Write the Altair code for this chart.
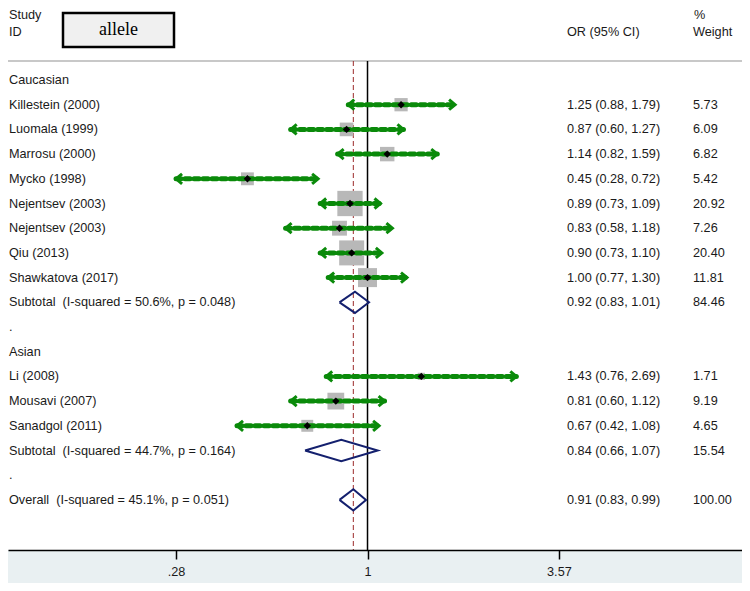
import altair as alt
import pandas as pd

# ---------------- data ----------------
studies = ["Killestein (2000)", "Luomala (1999)", "Marrosu (2000)", "Mycko (1998)",
           "Nejentsev (2003)", "Nejentsev (2003)", "Qiu (2013)", "Shawkatova (2017)",
           "Li (2008)", "Mousavi (2007)", "Sanadgol (2011)"]
groups = ["Caucasian"] * 8 + ["Asian"] * 3
or_vals = [1.25, 0.87, 1.14, 0.45, 0.89, 0.83, 0.90, 1.00, 1.43, 0.81, 0.67]
ci_low = [0.88, 0.60, 0.82, 0.28, 0.73, 0.58, 0.73, 0.77, 0.76, 0.60, 0.42]
ci_high = [1.79, 1.27, 1.59, 0.72, 1.09, 1.18, 1.10, 1.30, 2.69, 1.12, 1.08]
weights = [5.73, 6.09, 6.82, 5.42, 20.92, 7.26, 20.40, 11.81, 1.71, 9.19, 4.65]

sum_labels = ["Subtotal\u00a0 (I-squared = 50.6%, p = 0.048)",
              "Subtotal\u00a0 (I-squared = 44.7%, p = 0.164)",
              "Overall\u00a0 (I-squared = 45.1%, p = 0.051)"]
sum_groups = ["Caucasian", "Asian", "Overall"]
sum_or = [0.92, 0.84, 0.91]
sum_low = [0.83, 0.66, 0.83]
sum_high = [1.01, 1.07, 0.99]
sum_weights = [84.46, 15.54, 100.00]

tick_values = [0.28, 1, 3.57]
tick_labels = [".28", "1", "3.57"]

# ---------------- layout tables ----------------
W, H = 734, 542
FONT = "Liberation Sans"
FS = 12.7
TXT = "#1a1a1a"
GREEN = "#0a8a0a"
NAVY = "#14206e"

study_rows, label_rows, diamond_rows = [], [], []
row = 0
for gi, g in enumerate(["Caucasian", "Asian"]):
    label_rows.append({"row": row, "label": g, "orci": "", "wt": ""})
    row += 1
    for i, s in enumerate(studies):
        if groups[i] != g:
            continue
        study_rows.append({"row": row, "or": or_vals[i], "lo": ci_low[i], "hi": ci_high[i], "w": weights[i]})
        label_rows.append({"row": row, "label": s,
                           "orci": f"{or_vals[i]:.2f} ({ci_low[i]:.2f}, {ci_high[i]:.2f})",
                           "wt": f"{weights[i]:.2f}"})
        row += 1
    label_rows.append({"row": row, "label": sum_labels[gi],
                       "orci": f"{sum_or[gi]:.2f} ({sum_low[gi]:.2f}, {sum_high[gi]:.2f})",
                       "wt": f"{sum_weights[gi]:.2f}"})
    diamond_rows.append((row, gi))
    row += 1
    label_rows.append({"row": row, "label": ".", "orci": "", "wt": ""})
    row += 1
label_rows.append({"row": row, "label": sum_labels[2],
                   "orci": f"{sum_or[2]:.2f} ({sum_low[2]:.2f}, {sum_high[2]:.2f})",
                   "wt": f"{sum_weights[2]:.2f}"})
diamond_rows.append((row, 2))

half = 0.43
dia = []
for r, k in diamond_rows:
    pts = [(sum_low[k], r), (sum_or[k], r - half), (sum_high[k], r), (sum_or[k], r + half), (sum_low[k], r)]
    for v, (xx, yy) in enumerate(pts):
        dia.append({"g": sum_groups[k], "v": v, "x": xx, "y": yy})

df_st = pd.DataFrame(study_rows)
df_lab = pd.DataFrame(label_rows)
df_dia = pd.DataFrame(dia)
df_hdr_top = pd.DataFrame([
    {"c": "study", "t": "Study"},
    {"c": "wt", "t": "%"},
])
df_hdr = pd.DataFrame([
    {"row": -1.95, "c": "study", "t": "ID"},
    {"row": -1.95, "c": "or", "t": "OR (95% CI)"},
    {"row": -1.95, "c": "wt", "t": "Weight"},
])
df_ref = pd.DataFrame({"x": [1.0]})
df_ovr = pd.DataFrame({"x": [sum_or[2]]})
one = pd.DataFrame({"a": [0]})

xs = alt.Scale(type="log", domain=[0.0916, 12.06], range=[0, W], nice=False, zero=False)
ys = alt.Scale(domain=[19.028, -2.915], nice=False, zero=False)

label_map = "{" + ",".join(f"'{v}':'{l}'" for v, l in zip(tick_values, tick_labels)) + "}"
x_axis = alt.Axis(values=tick_values, labelExpr=f"{label_map}[toString(datum.value)]",
                  domainColor="black", domainWidth=1.5, tickColor="black", tickWidth=1.5,
                  tickSize=9, labelFontSize=FS, labelFont=FONT, labelColor=TXT,
                  labelPadding=6, grid=False, zindex=1, labelFlush=False,
                  labelOverlap=False, orient="bottom")


def X(f):
    return alt.X(f, type="quantitative", scale=xs, axis=x_axis, title=None)


def Y(f):
    return alt.Y(f, type="quantitative", scale=ys, axis=None, title=None)


band = alt.Chart(one).mark_rect(color="#e9f0f2").encode(
    x=alt.value(0), x2=alt.value(W), y=alt.value(H), y2=alt.value(H + 33))

hline = alt.Chart(one).mark_rule(color="#c8c8c8", strokeWidth=2).encode(
    x=alt.value(0), x2=alt.value(W), y=alt.value(53))

box = alt.Chart(one).mark_rect(fill="#f0f0f0", stroke="black", strokeWidth=2.5).encode(
    x=alt.value(55), x2=alt.value(166), y=alt.value(5), y2=alt.value(39))
box_txt = alt.Chart(pd.DataFrame({"t": ["allele"]})).mark_text(
    font="Liberation Serif", fontSize=18, color="black", align="center", baseline="middle").encode(
    x=alt.value(110.5), y=alt.value(22), text="t:N")

ref = alt.Chart(df_ref).mark_rule(color="black", strokeWidth=1.5).encode(
    x=X("x"), y=alt.value(53), y2=alt.value(H))

ovr = alt.Chart(df_ovr).mark_rule(color="#9b2a2a", strokeWidth=1, strokeDash=[5, 3]).encode(
    x=X("x"), y=alt.value(53), y2=alt.value(H))

squares = alt.Chart(df_st).mark_square(color="#b8b8b8", opacity=1).encode(
    x=X("or"), y=Y("row"),
    size=alt.Size("w:Q", scale=alt.Scale(domain=[0, 20.92], range=[0, 640]), legend=None))

ci = alt.Chart(df_st).mark_rule(color=GREEN, strokeWidth=5, strokeDash=[5, 4], strokeCap="round").encode(
    x=X("lo"), x2="hi", y=Y("row"))

larrow = alt.Chart(df_st).mark_point(shape="M1.2,-1L0,0L1.2,1", filled=False, stroke=GREEN,
                                     strokeWidth=3, size=100, opacity=1).encode(x=X("lo"), y=Y("row"))
rarrow = alt.Chart(df_st).mark_point(shape="M-1.2,-1L0,0L-1.2,1", filled=False, stroke=GREEN,
                                     strokeWidth=3, size=100, opacity=1).encode(x=X("hi"), y=Y("row"))

pts = alt.Chart(df_st).mark_point(shape="diamond", filled=True, color="black", size=55, opacity=1).encode(
    x=X("or"), y=Y("row"))

dia_l = alt.Chart(df_dia).mark_line(color=NAVY, strokeWidth=2, strokeJoin="miter").encode(
    x=X("x"), y=Y("y"), detail="g:N", order="v:Q")

tstyle = dict(font=FONT, fontSize=FS, color=TXT, align="left", baseline="middle")
t_lab = alt.Chart(df_lab).mark_text(**tstyle).encode(x=alt.value(1), y=Y("row"), text="label:N")
t_or = alt.Chart(df_lab).mark_text(**tstyle).encode(x=alt.value(559), y=Y("row"), text="orci:N")
t_wt = alt.Chart(df_lab).mark_text(**tstyle).encode(x=alt.value(685), y=Y("row"), text="wt:N")

h1 = alt.Chart(df_hdr[df_hdr.c == "study"]).mark_text(**tstyle).encode(x=alt.value(1), y=Y("row"), text="t:N")
h2 = alt.Chart(df_hdr[df_hdr.c == "or"]).mark_text(**tstyle).encode(x=alt.value(559), y=Y("row"), text="t:N")
h3 = alt.Chart(df_hdr[df_hdr.c == "wt"]).mark_text(**tstyle).encode(x=alt.value(685), y=Y("row"), text="t:N")

top_style = dict(font=FONT, fontSize=FS, color=TXT, align="left", baseline="top")
h4 = alt.Chart(df_hdr_top[df_hdr_top.c == "study"]).mark_text(**top_style).encode(
    x=alt.value(1), y=alt.value(1), text="t:N")
h5 = alt.Chart(df_hdr_top[df_hdr_top.c == "wt"]).mark_text(**top_style).encode(
    x=alt.value(686), y=alt.value(1), text="t:N")

chart = alt.layer(
    band, hline, box, box_txt, ref, ovr, squares, ci, larrow, rarrow, pts, dia_l,
    t_lab, t_or, t_wt, h1, h2, h3, h4, h5
).properties(
    width=W, height=H,
    autosize=alt.AutoSizeParams(type="none"),
    padding={"left": 0, "top": 0, "right": 0, "bottom": 33},
    background="white",
).configure_view(stroke=None)

chart.save("out.html", embed_options={"renderer": "svg", "actions": False})
